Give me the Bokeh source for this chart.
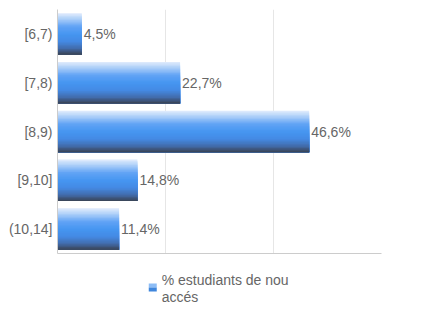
from bokeh.plotting import figure
from bokeh.layouts import column
from bokeh.models import (ColumnDataSource, FactorRange, Range1d, FixedTicker,
                          CustomJSTickFormatter)
from bokeh.transform import dodge
from bokeh.core.properties import value
from bokeh.embed import file_html
from bokeh.resources import INLINE

# Grade bands and share of new-entry students in each
categories = ["[6,7)", "[7,8)", "[8,9)", "[9,10]", "(10,14]"]
shares = [4.5, 22.7, 46.6, 14.8, 11.4]
series_name = "% estudiants de nou\naccés"

FONT = "Liberation Sans"
TEXT_COLOR = "#666666"
BAR_H = 0.85

p = figure(width=432, height=262, output_backend="svg", toolbar_location=None,
           y_range=FactorRange(*reversed(categories)), x_range=Range1d(0, 60),
           min_border_left=57, min_border_right=51, min_border_top=9,
           min_border_bottom=9, outline_line_color=None)

# vertical gradient for the bars, light at the top, dark at the bottom
stops = [(0.0, (226, 237, 252)), (0.12, (180, 211, 249)), (0.32, (98, 163, 245)),
         (0.5, (70, 150, 241)), (0.68, (68, 138, 228)), (0.85, (66, 108, 172)),
         (1.0, (57, 66, 82))]


def grad(t):
    for (t0, c0), (t1, c1) in zip(stops, stops[1:]):
        if t0 <= t <= t1:
            f = (t - t0) / (t1 - t0)
            return "#%02x%02x%02x" % tuple(int(round(a + (b - a) * f)) for a, b in zip(c0, c1))
    return "#%02x%02x%02x" % stops[-1][1]


src = ColumnDataSource(dict(cat=categories, val=shares,
                            lab=[f"{v:.1f}".replace(".", ",") + "%" for v in shares]))

# each layer runs from its own top edge down to the bar's bottom edge,
# so later (darker) layers paint over the earlier ones without seams
N = 30
step = BAR_H / N
for i in range(N):
    t = (i + 0.5) / N
    top = BAR_H / 2 - i * step
    bottom = -BAR_H / 2
    p.hbar(y=dodge("cat", (top + bottom) / 2, range=p.y_range), left=0,
           right="val", height=top - bottom, source=src, fill_color=grad(t),
           line_color=None)

p.text(x="val", y="cat", text="lab", source=src, x_offset=2,
       text_baseline="middle", text_align="left", text_font=value(FONT),
       text_font_size="14px", text_color=TEXT_COLOR)

p.xaxis.ticker = FixedTicker(ticks=[0, 20, 40, 60])
p.xaxis.formatter = CustomJSTickFormatter(code="return ''")
p.xaxis.major_label_text_font_size = "1px"
p.xaxis.major_label_standoff = 0
p.xaxis.major_tick_out = 0
p.xaxis.major_tick_in = 0
p.xaxis.minor_tick_line_color = None
p.xaxis.axis_line_color = "#cccccc"
p.xgrid.grid_line_color = "#e6e6e6"
p.xgrid.ticker = FixedTicker(ticks=[20, 40, 60])
p.ygrid.grid_line_color = None

p.yaxis.axis_line_color = "#cccccc"
p.yaxis.major_tick_out = 0
p.yaxis.major_tick_in = 0
p.yaxis.minor_tick_line_color = None
p.yaxis.major_label_standoff = 5
p.yaxis.major_label_text_font = FONT
p.yaxis.major_label_text_font_size = "14px"
p.yaxis.major_label_text_color = TEXT_COLOR

# legend strip under the chart (pixel-like coordinates, y grows downward)
lg = figure(width=432, height=62, output_backend="svg", toolbar_location=None,
            x_range=Range1d(19, 451), y_range=Range1d(62, 0),
            x_axis_location=None, y_axis_location=None,
            min_border=0, outline_line_color=None)
lg.grid.visible = False
lg.rect(x=[146], y=[23], width=8, height=4, width_units="screen",
        height_units="screen", fill_color="#8dbdf6", line_color=None)
lg.rect(x=[146], y=[27], width=8, height=4, width_units="screen",
        height_units="screen", fill_color="#3f86dc", line_color=None)
lines = series_name.split("\n")
lg.text(x=[158] * len(lines), y=[17 + 17 * k for k in range(len(lines))],
        text=lines, text_baseline="middle", text_align="left",
        text_font=value(FONT), text_font_size="14px", text_color=TEXT_COLOR)

open("out.html", "w").write(file_html(column(p, lg, spacing=0), INLINE))
